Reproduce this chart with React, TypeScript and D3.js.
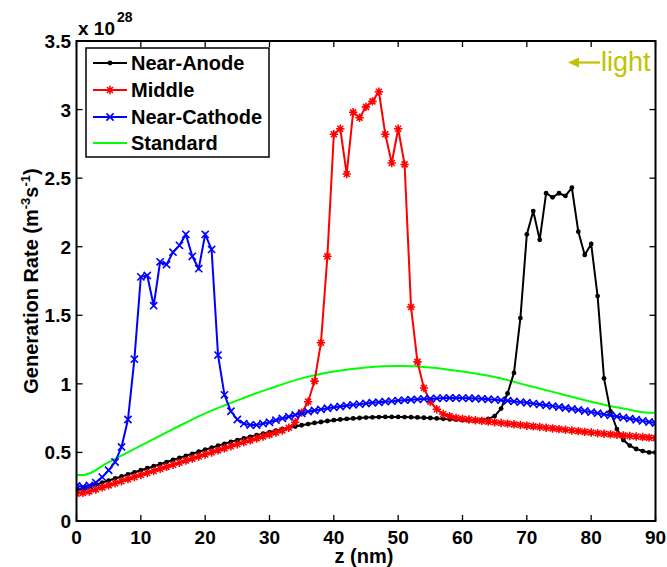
import React from "react";
import * as d3 from "d3";

const zNm: number[] = d3.range(0, 91);

const nearAnode: number[] = [
  0.225, 0.235, 0.25, 0.265, 0.28, 0.295, 0.31, 0.325, 0.34, 0.355,
  0.37, 0.385, 0.4, 0.415, 0.43, 0.445, 0.46, 0.475, 0.49, 0.505,
  0.52, 0.535, 0.549, 0.563, 0.577, 0.59, 0.602, 0.614, 0.626, 0.637,
  0.648, 0.659, 0.669, 0.679, 0.689, 0.698, 0.707, 0.715, 0.722, 0.729,
  0.735, 0.74, 0.744, 0.748, 0.751, 0.754, 0.756, 0.758, 0.759, 0.759,
  0.759, 0.758, 0.757, 0.755, 0.753, 0.751, 0.748, 0.745, 0.742, 0.739,
  0.736, 0.733, 0.732, 0.735, 0.745, 0.765, 0.82, 0.93, 1.08, 1.48,
  2.09, 2.26, 2.05, 2.39, 2.36, 2.39, 2.37, 2.43, 2.11, 1.94,
  2.02, 1.64, 1.04, 0.8, 0.67, 0.59, 0.55, 0.525, 0.51, 0.5,
  0.5,
];

const middle: number[] = [
  0.2, 0.205, 0.215, 0.23, 0.245, 0.26, 0.275, 0.29, 0.305, 0.32,
  0.335, 0.35, 0.365, 0.38, 0.395, 0.41, 0.425, 0.44, 0.455, 0.47,
  0.485, 0.5, 0.515, 0.53, 0.545, 0.56, 0.574, 0.588, 0.602, 0.616,
  0.63, 0.645, 0.66, 0.68, 0.72, 0.79, 0.87, 1.02, 1.3, 1.93,
  2.82, 2.86, 2.53, 2.98, 2.94, 3.02, 3.06, 3.13, 2.82, 2.61,
  2.86, 2.6, 1.56, 1.16, 0.97, 0.87, 0.815, 0.78, 0.765, 0.752,
  0.745, 0.74, 0.735, 0.73, 0.725, 0.72, 0.715, 0.71, 0.705, 0.7,
  0.695, 0.69, 0.685, 0.68, 0.675, 0.67, 0.665, 0.66, 0.655, 0.65,
  0.645, 0.64, 0.636, 0.632, 0.628, 0.624, 0.62, 0.616, 0.612, 0.608,
  0.604,
];

const nearCathode: number[] = [
  0.255, 0.25, 0.26, 0.28, 0.32, 0.37, 0.43, 0.54, 0.74, 1.18,
  1.78, 1.79, 1.57, 1.89, 1.87, 1.96, 2.01, 2.09, 1.93, 1.84,
  2.09, 1.98, 1.21, 0.92, 0.8, 0.74, 0.71, 0.7, 0.7, 0.71,
  0.72, 0.735, 0.748, 0.76, 0.773, 0.785, 0.797, 0.806, 0.814, 0.822,
  0.829, 0.835, 0.841, 0.847, 0.852, 0.857, 0.862, 0.866, 0.87, 0.874,
  0.878, 0.881, 0.884, 0.887, 0.89, 0.892, 0.894, 0.896, 0.897, 0.897,
  0.896, 0.895, 0.893, 0.891, 0.888, 0.885, 0.881, 0.877, 0.872, 0.867,
  0.862, 0.856, 0.85, 0.844, 0.838, 0.831, 0.824, 0.817, 0.81, 0.802,
  0.794, 0.786, 0.778, 0.77, 0.762, 0.754, 0.746, 0.738, 0.73, 0.722,
  0.714,
];

const zStandard: number[] = [0, 1, 5, 10, 15, 20, 25, 30, 35, 40, 45, 50, 55, 60, 65, 70, 75, 80, 85, 89, 90];
const standard: number[] = [0.335, 0.335, 0.43, 0.55, 0.67, 0.785, 0.88, 0.965, 1.04, 1.09, 1.12, 1.13, 1.12, 1.09, 1.05, 0.99, 0.93, 0.87, 0.82, 0.79, 0.79];

const xTicks: number[] = [0, 10, 20, 30, 40, 50, 60, 70, 80, 90];
const yTicks: number[] = [0, 0.5, 1, 1.5, 2, 2.5, 3, 3.5];
const legendLabels: string[] = ["Near-Anode", "Middle", "Near-Cathode", "Standard"];

const W = 667;
const H = 567;
const M = { left: 76.5, right: 655.5, top: 41, bottom: 521 };
const FONT = "'Liberation Sans', Arial, Helvetica, sans-serif";
const LIGHT = "#c2c200";

type Pt = [number, number];

function Marker({ kind, x, y, color }: { kind: string; x: number; y: number; color: string }) {
  if (kind === "dot") return <circle cx={x} cy={y} r={2.4} fill={color} />;
  if (kind === "x") {
    const s = 3.6;
    return (
      <path d={`M${x - s},${y - s}L${x + s},${y + s}M${x - s},${y + s}L${x + s},${y - s}`} stroke={color} strokeWidth={1.6} fill="none" />
    );
  }
  if (kind === "star") {
    const s = 4.2;
    const d = 3.0;
    return (
      <path
        d={`M${x - s},${y}L${x + s},${y}M${x},${y - s}L${x},${y + s}M${x - d},${y - d}L${x + d},${y + d}M${x - d},${y + d}L${x + d},${y - d}`}
        stroke={color}
        strokeWidth={1.6}
        fill="none"
      />
    );
  }
  return null;
}

export default function App() {
  const x = d3.scaleLinear().domain([0, 90]).range([M.left, M.right]);
  const y = d3.scaleLinear().domain([0, 3.5]).range([M.bottom, M.top]);
  const line = d3.line<Pt>().x((d) => x(d[0])).y((d) => y(d[1]));
  const smooth = d3.line<Pt>().x((d) => x(d[0])).y((d) => y(d[1])).curve(d3.curveMonotoneX);

  const series = [
    { name: legendLabels[0], vals: nearAnode, color: "#000000", marker: "dot" },
    { name: legendLabels[1], vals: middle, color: "#ff0000", marker: "star" },
    { name: legendLabels[2], vals: nearCathode, color: "#0000ff", marker: "x" },
  ];
  const stdPts: Pt[] = zStandard.map((z, i) => [z, standard[i]]);

  const tickLen = 6;
  const legend = { x: 86, y: 48, w: 183, h: 109 };
  const legendRows = [63, 90, 117, 143];

  return (
    <svg width={W} height={H} style={{ position: "absolute", left: 0, top: 0, background: "#fff" }} fontFamily={FONT}>
      <rect x={0} y={0} width={W} height={H} fill="#fff" />
      <defs>
        <clipPath id="plotClip">
          <rect x={M.left} y={M.top} width={M.right - M.left} height={M.bottom - M.top} />
        </clipPath>
      </defs>

      {/* ticks */}
      {xTicks.map((t) => (
        <g key={"xt" + t}>
          <line x1={x(t)} x2={x(t)} y1={M.bottom} y2={M.bottom - tickLen} stroke="#000" strokeWidth={1.3} />
          <line x1={x(t)} x2={x(t)} y1={M.top} y2={M.top + tickLen} stroke="#000" strokeWidth={1.3} />
          <text x={x(t)} y={544} textAnchor="middle" fontSize={19} fontWeight="bold">
            {t}
          </text>
        </g>
      ))}
      {yTicks.map((t) => (
        <g key={"yt" + t}>
          <line x1={M.left} x2={M.left + tickLen} y1={y(t)} y2={y(t)} stroke="#000" strokeWidth={1.3} />
          <line x1={M.right} x2={M.right - tickLen} y1={y(t)} y2={y(t)} stroke="#000" strokeWidth={1.3} />
          <text x={71} y={y(t) + 7} textAnchor="end" fontSize={19} fontWeight="bold">
            {t}
          </text>
        </g>
      ))}

      <g clipPath="url(#plotClip)">
        <path d={smooth(stdPts) || ""} fill="none" stroke="#00ff00" strokeWidth={2} />
        {series.map((s) => {
          const pts: Pt[] = zNm.map((z, i) => [z, s.vals[i]]);
          return (
            <g key={s.name}>
              <path d={line(pts) || ""} fill="none" stroke={s.color} strokeWidth={2} />
              {pts.map((p, i) => (
                <Marker key={i} kind={s.marker} x={x(p[0])} y={y(p[1])} color={s.color} />
              ))}
            </g>
          );
        })}
      </g>

      {/* box */}
      <rect x={M.left} y={M.top} width={M.right - M.left} height={M.bottom - M.top} fill="none" stroke="#000" strokeWidth={2} />

      {/* exponent */}
      <text x={78} y={35} fontSize={19} fontWeight="bold">
        x 10
      </text>
      <text x={117} y={22} fontSize={14} fontWeight="bold">
        28
      </text>

      {/* axis labels */}
      <text x={364} y={563} textAnchor="middle" fontSize={20} fontWeight="bold">
        z (nm)
      </text>
      <text transform="translate(38,281) rotate(-90)" textAnchor="middle" fontSize={20} fontWeight="bold">
        Generation Rate (m
        <tspan dy={-8} fontSize={13}>-3</tspan>
        <tspan dy={8}>s</tspan>
        <tspan dy={-8} fontSize={13}>-1</tspan>
        <tspan dy={8}>)</tspan>
      </text>

      {/* legend */}
      <rect x={legend.x} y={legend.y} width={legend.w} height={legend.h} fill="#fff" stroke="#000" strokeWidth={1.5} />
      {legendLabels.map((name, i) => {
        const ly = legendRows[i];
        const color = i === 3 ? "#00ff00" : series[i].color;
        return (
          <g key={"lg" + name}>
            <line x1={93} x2={127} y1={ly} y2={ly} stroke={color} strokeWidth={2} />
            {i < 3 && <Marker kind={series[i].marker} x={110} y={ly} color={color} />}
            <text x={131} y={ly + 7} fontSize={20} fontWeight="bold">
              {name}
            </text>
          </g>
        );
      })}

      {/* light annotation */}
      <line x1={576} x2={600} y1={62.5} y2={62.5} stroke={LIGHT} strokeWidth={2.2} />
      <path d="M568,62.5L579,57.5L579,67.5Z" fill={LIGHT} />
      <text x={601} y={71} fontSize={27} fill={LIGHT}>
        light
      </text>
    </svg>
  );
}
